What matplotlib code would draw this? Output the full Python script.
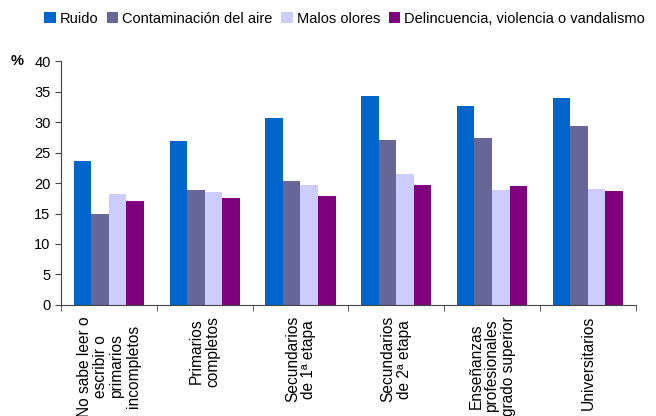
import numpy as np
import matplotlib.pyplot as plt

plt.rcParams['font.family'] = ['Liberation Sans', 'DejaVu Sans']

# ================= DATA =================
categorias = [
    "No sabe leer o\nescribir o\nprimarios\nincompletos",
    "Primarios\ncompletos",
    "Secundarios\nde 1ª etapa",
    "Secundarios\nde 2ª etapa",
    "Enseñanzas\nprofesionales\ngrado superior",
    "Universitarios",
]
series = ["Ruido", "Contaminación del aire", "Malos olores",
          "Delincuencia, violencia o vandalismo"]
ruido = [23.6, 26.9, 30.6, 34.3, 32.6, 33.9]
contaminacion = [14.9, 18.8, 20.3, 27.0, 27.4, 29.3]
malos_olores = [18.2, 18.5, 19.7, 21.5, 18.8, 19.0]
delincuencia = [17.0, 17.5, 17.9, 19.7, 19.5, 18.7]
colores = ["#0066CC", "#666699", "#CCCCFF", "#800080"]

# ================= PLOT =================
fig = plt.figure(figsize=(6.56, 4.16), dpi=100)
ax = fig.add_axes([0.093, 0.267, 0.876, 0.586])

x = np.arange(len(categorias))
ancho = 0.183
valores = [ruido, contaminacion, malos_olores, delincuencia]
for i, (nombre, v) in enumerate(zip(series, valores)):
    ax.bar(x + (i - 1.5) * ancho, v, ancho, color=colores[i], label=nombre)

ax.set_xlim(-0.5, len(categorias) - 0.5)
ax.set_ylim(0, 40)
ax.set_yticks(range(0, 41, 5))
ax.tick_params(axis='y', labelsize=10.5, length=4, direction='out', color='#444444')

ax.set_xticks(x)
ax.set_xticklabels(categorias, rotation=90, fontsize=11.2, va='top',
                   ha='center', multialignment='center', linespacing=1.1)
ax.tick_params(axis='x', which='major', length=0, pad=8)
ax.set_xticks(np.arange(-0.5, len(categorias)), minor=True)
ax.tick_params(axis='x', which='minor', length=4, direction='out', color='#444444')

for s in ['top', 'right']:
    ax.spines[s].set_visible(False)
ax.spines['left'].set_color('#444444')
ax.spines['bottom'].set_color('#444444')

fig.text(0.016, 0.853, "%", fontsize=10.5, fontweight='bold', va='center')

fig.legend(loc='upper center', bbox_to_anchor=(0.525, 1.0), ncol=4,
           frameon=False, fontsize=10.5, handlelength=0.8, handleheight=0.8,
           handletextpad=0.25, columnspacing=0.6, borderaxespad=0.4)

fig.savefig("out.png", dpi=100)
